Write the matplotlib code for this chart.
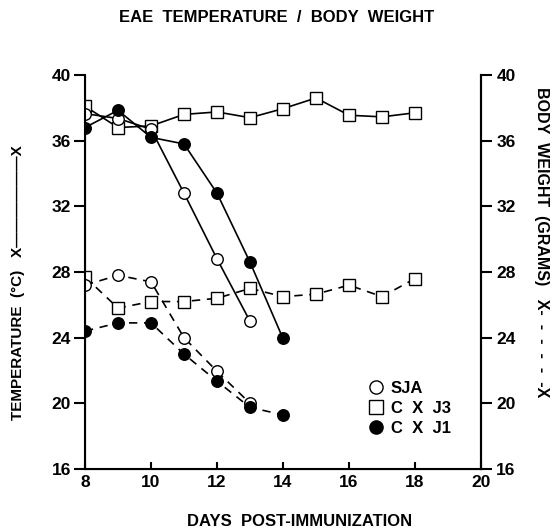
import matplotlib
matplotlib.use("Agg")
import matplotlib.pyplot as plt
from matplotlib.lines import Line2D

plt.rcParams['font.family'] = ['Liberation Sans', 'DejaVu Sans']
plt.rcParams['font.weight'] = 'bold'

# Temperature (solid lines)
days_sja_t = [8, 9, 10, 11, 12, 13]
temp_sja = [37.65, 37.35, 36.7, 32.8, 28.8, 25.0]
days_j3_t = [8, 9, 10, 11, 12, 13, 14, 15, 16, 17, 18]
temp_j3 = [38.1, 36.8, 36.9, 37.6, 37.75, 37.4, 37.95, 38.6, 37.55, 37.45, 37.7]
days_j1_t = [8, 9, 10, 11, 12, 13, 14]
temp_j1 = [36.8, 37.85, 36.2, 35.8, 32.8, 28.6, 23.95]

# Body weight (dashed lines)
days_sja_w = [8, 9, 10, 11, 12, 13]
wt_sja = [27.2, 27.8, 27.4, 24.0, 21.95, 20.0]
days_j3_w = [8, 9, 10, 11, 12, 13, 14, 15, 16, 17, 18]
wt_j3 = [27.7, 25.8, 26.2, 26.2, 26.4, 27.0, 26.5, 26.65, 27.2, 26.5, 27.6]
days_j1_w = [8, 9, 10, 11, 12, 13, 14]
wt_j1 = [24.4, 24.9, 24.9, 23.0, 21.35, 19.75, 19.3]

xticks = [8, 10, 12, 14, 16, 18, 20]
yticks = [16, 20, 24, 28, 32, 36, 40]

fig = plt.figure(figsize=(5.55, 5.29), dpi=100)
ax = fig.add_axes([85/555, 1-469/529, 396/555, 394/529])

ms = 8.3
lw = 1.2
dash = (0, (5, 4))
open_c = dict(marker='o', mfc='white', mec='black', ms=ms, color='black', lw=lw, mew=1.0)
open_s = dict(marker='s', mfc='white', mec='black', ms=ms, color='black', lw=lw, mew=1.0)
fill_c = dict(marker='o', mfc='black', mec='black', ms=ms, color='black', lw=lw)

ax.plot(days_j3_t, temp_j3, **open_s, zorder=3)
ax.plot(days_sja_t, temp_sja, **open_c, zorder=4)
ax.plot(days_j1_t, temp_j1, **fill_c, zorder=5)
ax.plot(days_j3_w, wt_j3, ls=dash, **open_s, zorder=3)
ax.plot(days_sja_w, wt_sja, ls=dash, **open_c, zorder=4)
ax.plot(days_j1_w, wt_j1, ls=dash, **fill_c, zorder=5)

ax.set_xlim(8, 20)
ax.set_ylim(16, 40)
ax.set_xticks(xticks)
ax.set_yticks(yticks)
ax.spines['top'].set_visible(False)
for s in ['left', 'bottom', 'right']:
    ax.spines[s].set_linewidth(1.5)
ax.tick_params(axis='y', direction='out', length=8, width=1.5, labelsize=12.5, pad=2)
ax.tick_params(axis='x', direction='in', length=5, width=1.5, labelsize=12.5, pad=4)

ax2 = ax.twinx()
ax2.set_ylim(16, 40)
ax2.set_yticks(yticks)
ax2.spines['top'].set_visible(False)
ax2.spines['right'].set_linewidth(1.5)
ax2.tick_params(axis='y', direction='out', length=8, width=1.5, labelsize=12.5, pad=3)
for lab in ax.get_xticklabels() + ax.get_yticklabels() + ax2.get_yticklabels():
    lab.set_fontweight('bold')

handles = [
    Line2D([], [], ls='none', marker='o', mfc='white', mec='black', ms=9.5, mew=1.0),
    Line2D([], [], ls='none', marker='s', mfc='white', mec='black', ms=9.5, mew=1.0),
    Line2D([], [], ls='none', marker='o', mfc='black', mec='black', ms=9.5),
]
ax.legend(handles, ['SJA', 'C  X  J3', 'C  X  J1'], loc='upper left',
          bbox_to_anchor=(0.675, 0.262), frameon=False,
          handletextpad=0.4, labelspacing=0.3, handlelength=1.0,
          prop={'weight': 'bold', 'size': 12})

fig.text(277/555, 1-17/529, 'EAE  TEMPERATURE  /  BODY  WEIGHT', ha='center', va='center',
         fontsize=12, fontweight='bold')
fig.text(300/555, 1-521/529, 'DAYS  POST-IMMUNIZATION', ha='center', va='center',
         fontsize=12, fontweight='bold')
fig.text(18/555, 1-283/529, 'TEMPERATURE  (\u00b0C)   X\u2014\u2014\u2014\u2014\u2014\u2014X', rotation=90,
         ha='center', va='center', fontsize=11, fontweight='bold')
fig.text(542/555, 1-242/529, 'BODY  WEIGHT  (GRAMS)   X-  -  -  -  -  -X', rotation=270,
         ha='center', va='center', fontsize=11.5, fontweight='bold')

fig.savefig('out.png', dpi=100)
